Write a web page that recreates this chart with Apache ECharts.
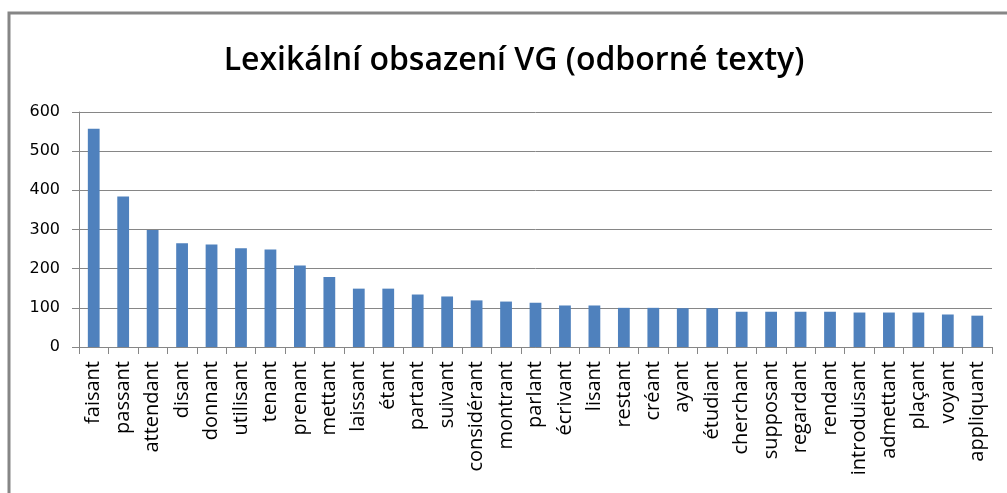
<!DOCTYPE html>
<html>
<head>
<meta charset="utf-8">
<script src="https://cdn.jsdelivr.net/npm/echarts@6/dist/echarts.min.js"></script>
<style>
  html, body { margin: 0; padding: 0; background: #fff; }
  #chart { width: 1007px; height: 493px; }
</style>
</head>
<body>
<div id="chart"></div>
<script>
  // slovesa (gerondif) a jejich frekvence
  const categories = ['faisant', 'passant', 'attendant', 'disant', 'donnant', 'utilisant', 'tenant',
    'prenant', 'mettant', 'laissant', 'étant', 'partant', 'suivant', 'considérant', 'montrant',
    'parlant', 'écrivant', 'lisant', 'restant', 'créant', 'ayant', 'étudiant', 'cherchant',
    'supposant', 'regardant', 'rendant', 'introduisant', 'admettant', 'plaçant', 'voyant', 'appliquant']
  const values = [557, 384, 299, 265, 262, 252, 249, 208, 179, 149, 149, 134, 129, 119, 116,
    113, 106, 106, 100, 100, 99, 99, 90, 90, 90, 90, 88, 88, 88, 83, 80]
  const titleText = 'Lexikální obsazení VG (odborné texty)'

  const chart = echarts.init(document.getElementById('chart'))
  chart.setOption({
    animation: false,
    title: {
      text: titleText,
      left: 509,
      textAlign: 'center',
      top: 40,
      textStyle: { fontFamily: 'Open Sans', fontSize: 32, fontWeight: 600, color: '#000' }
    },
    graphic: [{
      type: 'rect',
      shape: { x: 9, y: 13, width: 1010, height: 500 },
      style: { fill: 'none', stroke: '#868686', lineWidth: 3 }
    }],
    grid: { left: 79, right: 15, top: 112, bottom: 146 },
    xAxis: {
      type: 'category',
      data: categories,
      axisLine: { lineStyle: { color: '#868686', width: 1 } },
      axisTick: { show: true, length: 7, lineStyle: { color: '#868686' } },
      axisLabel: {
        rotate: 90, interval: 0, margin: 14,
        color: '#000', fontFamily: 'Open Sans', fontSize: 20
      }
    },
    yAxis: {
      type: 'value',
      min: 0, max: 600, interval: 100,
      axisLine: { show: true, lineStyle: { color: '#868686' } },
      axisTick: { show: true, length: 7, lineStyle: { color: '#868686' } },
      splitLine: { lineStyle: { color: '#868686' } },
      axisLabel: { color: '#000', fontFamily: 'DejaVu Sans', fontSize: 16, margin: 19 }
    },
    series: [{
      type: 'bar',
      data: values,
      barWidth: '40%',
      itemStyle: { color: '#4F81BD' }
    }]
  })
</script>
</body>
</html>
